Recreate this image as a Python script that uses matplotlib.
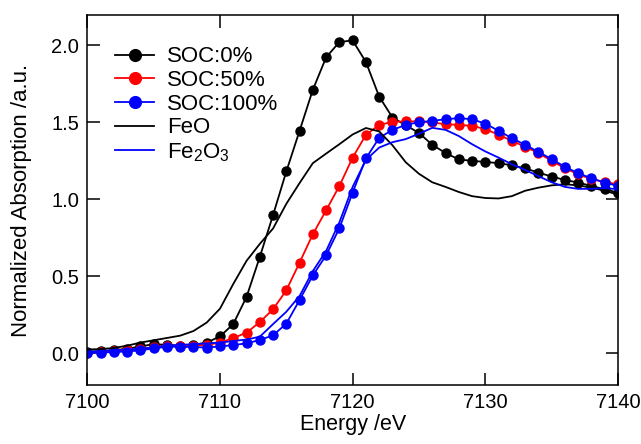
import matplotlib
matplotlib.use("Agg")
import matplotlib.pyplot as plt
import numpy as np

plt.rcParams['font.family'] = ['Liberation Sans', 'DejaVu Sans']
plt.rcParams['mathtext.default'] = 'regular'

# energy grid for the SOC spectra (1 eV steps)
energy = np.arange(7100, 7141)

soc0 = [0.01, 0.015, 0.02, 0.03, 0.045, 0.06, 0.055, 0.05, 0.055, 0.07,
        0.11, 0.19, 0.366, 0.625, 0.897, 1.18, 1.444, 1.71, 1.92, 2.02,
        2.03, 1.89, 1.666, 1.53, 1.48, 1.43, 1.353, 1.30, 1.258, 1.249,
        1.242, 1.234, 1.22, 1.20, 1.173, 1.147, 1.125, 1.108, 1.086, 1.065,
        1.043]

soc50 = [0.005, 0.01, 0.015, 0.02, 0.03, 0.04, 0.05, 0.05, 0.05, 0.055,
         0.07, 0.10, 0.134, 0.203, 0.286, 0.409, 0.589, 0.773, 0.928, 1.086,
         1.27, 1.418, 1.482, 1.502, 1.505, 1.505, 1.498, 1.487, 1.482, 1.476,
         1.455, 1.418, 1.379, 1.34, 1.30, 1.249, 1.201, 1.162, 1.13, 1.112,
         1.097]

soc100 = [0.005, 0.005, 0.009, 0.012, 0.02, 0.032, 0.043, 0.043, 0.041, 0.038,
          0.045, 0.054, 0.065, 0.087, 0.117, 0.193, 0.346, 0.506, 0.636, 0.812,
          1.043, 1.265, 1.398, 1.45, 1.482, 1.50, 1.508, 1.519, 1.526, 1.519,
          1.49, 1.444, 1.396, 1.353, 1.307, 1.26, 1.21, 1.169, 1.136, 1.108,
          1.086]

# reference spectra
feo = [0.025, 0.028, 0.035, 0.05, 0.07, 0.085, 0.10, 0.115, 0.145, 0.20,
       0.29, 0.45, 0.60, 0.71, 0.81, 0.97, 1.105, 1.234, 1.296, 1.357,
       1.42, 1.462, 1.44, 1.35, 1.24, 1.165, 1.11, 1.08, 1.047, 1.02,
       1.008, 1.005, 1.02, 1.055, 1.075, 1.09, 1.097, 1.09, 1.075, 1.055,
       1.03]

fe2o3 = [0.01, 0.015, 0.02, 0.025, 0.03, 0.04, 0.05, 0.055, 0.06, 0.065,
         0.07, 0.08, 0.09, 0.108, 0.19, 0.27, 0.372, 0.534, 0.664, 0.85,
         1.08, 1.255, 1.335, 1.37, 1.39, 1.425, 1.463, 1.45, 1.41, 1.357,
         1.31, 1.27, 1.227, 1.19, 1.15, 1.11, 1.08, 1.067, 1.068, 1.072,
         1.065]

fig = plt.figure(figsize=(6.41, 4.44), dpi=100)
ax = fig.add_axes([0.1362, 0.1329, 0.8279, 0.8333])

ax.plot(energy, soc0, '-o', color='black', lw=1.3, ms=6.5, label='SOC:0%')
ax.plot(energy, soc50, '-o', color='red', lw=1.3, ms=6.5, label='SOC:50%')
ax.plot(energy, soc100, '-o', color='blue', lw=1.3, ms=6.5, label='SOC:100%')
ax.plot(energy, feo, '-', color='black', lw=1.3, label='FeO')
ax.plot(energy, fe2o3, '-', color='blue', lw=1.3, label=r'Fe$_2$O$_3$')

ax.set_xlim(7100, 7140)
ax.set_ylim(-0.205, 2.195)
ax.set_xticks([7100, 7110, 7120, 7130, 7140])
ax.set_yticks([0.0, 0.5, 1.0, 1.5, 2.0])
ax.set_yticklabels(['0.0', '0.5', '1.0', '1.5', '2.0'])

ax.tick_params(direction='in', top=True, right=True, length=9, width=1.1,
               labelsize=14.5, pad=6)
for s in ax.spines.values():
    s.set_linewidth(1.1)

ax.set_xlabel('Energy /eV', fontsize=15.5, labelpad=1)
ax.set_ylabel('Normalized Absorption /a.u.', fontsize=16, labelpad=14)

ax.legend(loc='upper left', bbox_to_anchor=(0.0525, 0.915), frameon=False,
          fontsize=16, borderaxespad=0, borderpad=0, handlelength=1.75,
          handletextpad=0.6, labelspacing=0.12, markerscale=1.3)

fig.savefig('out.png', dpi=100)
